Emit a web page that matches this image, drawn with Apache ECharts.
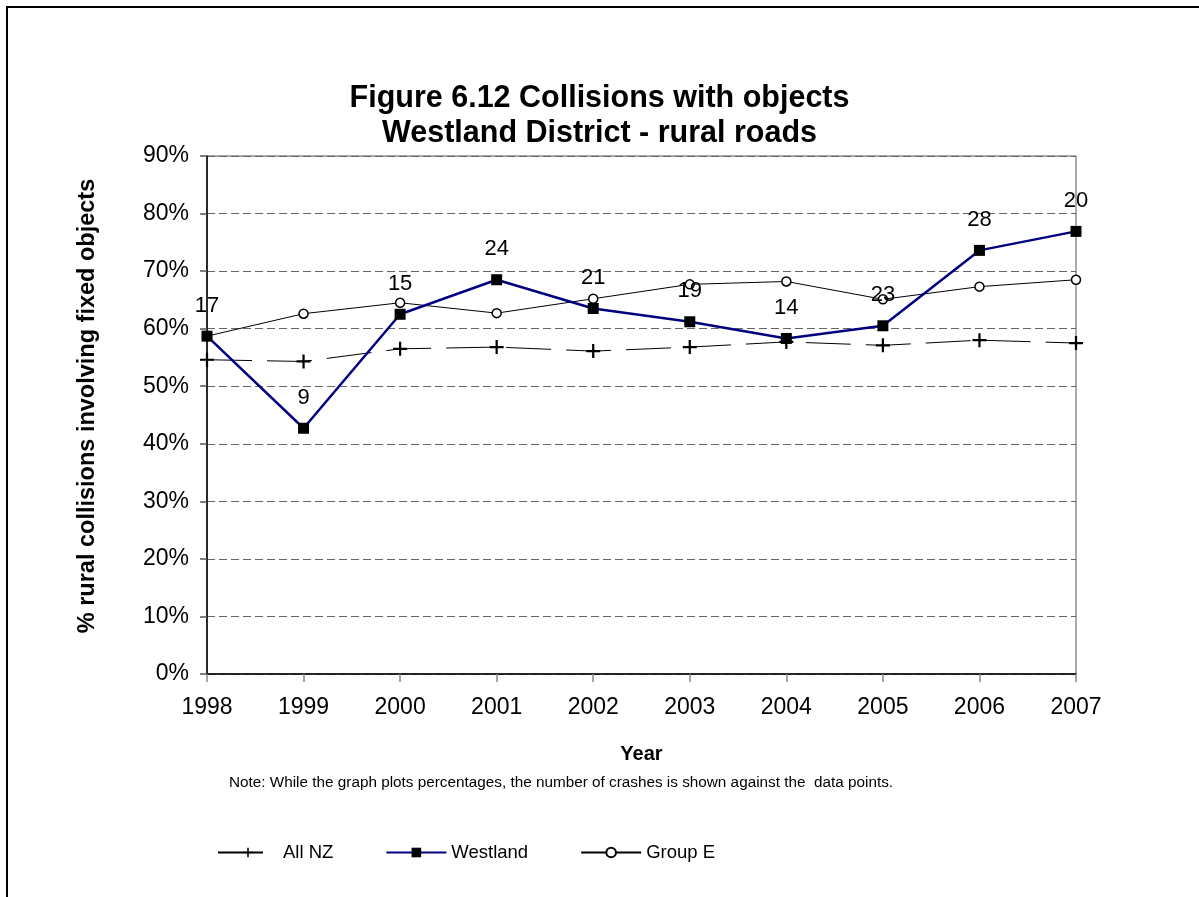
<!DOCTYPE html>
<html>
<head>
<meta charset="utf-8">
<script src="https://cdn.jsdelivr.net/npm/echarts@6/dist/echarts.min.js"></script>
<style>
html,body{margin:0;padding:0;background:#fff;}
#chart{width:1199px;height:897px;}
</style>
</head>
<body>
<div id="chart"></div>
<script>
const years = ['1998','1999','2000','2001','2002','2003','2004','2005','2006','2007'];
const allNZ = [54.6, 54.3, 56.5, 56.8, 56.1, 56.8, 57.7, 57.1, 58.0, 57.5];
const westland = [58.7, 42.7, 62.5, 68.5, 63.5, 61.2, 58.3, 60.5, 73.6, 76.9];
const groupE = [58.7, 62.6, 64.5, 62.7, 65.2, 67.7, 68.2, 65.1, 67.3, 68.5];
const crashCounts = [17, 9, 15, 24, 21, 19, 14, 23, 28, 20];
const yTicks = [0, 10, 20, 30, 40, 50, 60, 70, 80, 90];

const FONT = '"Liberation Sans", Arial, sans-serif';
const plusPath = 'path://M4.2,0 H5.8 V4.2 H10 V5.8 H5.8 V10 H4.2 V5.8 H0 V4.2 H4.2 Z';

const chart = echarts.init(document.getElementById('chart'), null, {renderer: 'canvas'});
chart.setOption({
  backgroundColor: '#fff',
  animation: false,
  textStyle: {fontFamily: FONT},
  title: {
    text: 'Figure 6.12 Collisions with objects\nWestland District - rural roads',
    left: 'center',
    top: 76,
    textStyle: {fontFamily: FONT, fontSize: 30.5, fontWeight: 'bold', color: '#000', lineHeight: 35}
  },
  graphic: [
    {type: 'rect', shape: {x: 7, y: 7, width: 1300, height: 1000}, style: {fill: 'none', stroke: '#000', lineWidth: 2}, silent: true},
    {type: 'text', x: 88, y: 406, rotation: Math.PI / 2,
      style: {text: '% rural collisions involving fixed objects', fontFamily: FONT, fontSize: 23.5, fontWeight: 'bold', fill: '#000', align: 'center', verticalAlign: 'middle'}},
    {type: 'text', x: 561, y: 783,
      style: {text: 'Note: While the graph plots percentages, the number of crashes is shown against the  data points.', fontFamily: FONT, fontSize: 15.3, fill: '#000', align: 'center', verticalAlign: 'middle'}}
  ],
  grid: {left: 207, right: 123, top: 156, bottom: 223, show: true, borderColor: '#555', borderWidth: 1, containLabel: false},
  legend: {
    left: 212, top: 838,
    itemWidth: 60, itemHeight: 12, itemGap: 52,
    textStyle: {fontFamily: FONT, fontSize: 18.5, color: '#000'},
    data: ['All NZ', 'Westland', 'Group E']
  },
  xAxis: {
    type: 'category',
    data: years,
    boundaryGap: false,
    name: 'Year',
    nameLocation: 'middle',
    nameGap: 70,
    nameTextStyle: {fontFamily: FONT, fontSize: 20, fontWeight: 'bold', color: '#000'},
    axisLine: {lineStyle: {color: '#000', width: 1.5}},
    axisTick: {show: true, length: 8, lineStyle: {color: '#888', width: 1.5}},
    axisLabel: {fontFamily: FONT, fontSize: 23, color: '#000', margin: 22},
    splitLine: {show: false}
  },
  yAxis: {
    type: 'value',
    min: yTicks[0],
    max: yTicks[yTicks.length - 1],
    interval: 10,
    axisLine: {show: true, lineStyle: {color: '#000', width: 1.5}},
    axisTick: {show: true, length: 7, lineStyle: {color: '#555', width: 1.5}},
    axisLabel: {fontFamily: FONT, fontSize: 23, color: '#000', margin: 18, formatter: '{value}%'},
    splitLine: {show: true, lineStyle: {color: '#666', type: [8, 4], width: 1}}
  },
  series: [
    {
      name: 'All NZ', type: 'line', data: allNZ, z: 2,
      symbol: plusPath, symbolSize: 14,
      itemStyle: {color: '#000'},
      lineStyle: {color: '#000', width: 1, type: [45, 15]}
    },
    {
      name: 'Westland', type: 'line', data: westland, z: 4,
      symbol: 'rect', symbolSize: 11,
      itemStyle: {color: '#000'},
      lineStyle: {color: '#000080', width: 2.5},
      label: {
        show: true, position: 'top', distance: 14,
        fontFamily: FONT, fontSize: 22, color: '#000',
        formatter: function (p) { return crashCounts[p.dataIndex]; }
      }
    },
    {
      name: 'Group E', type: 'line', data: groupE, z: 3,
      symbol: 'circle', symbolSize: 9,
      itemStyle: {color: '#fff', borderColor: '#000', borderWidth: 1.5},
      lineStyle: {color: '#000', width: 1}
    }
  ]
});
</script>
</body>
</html>
